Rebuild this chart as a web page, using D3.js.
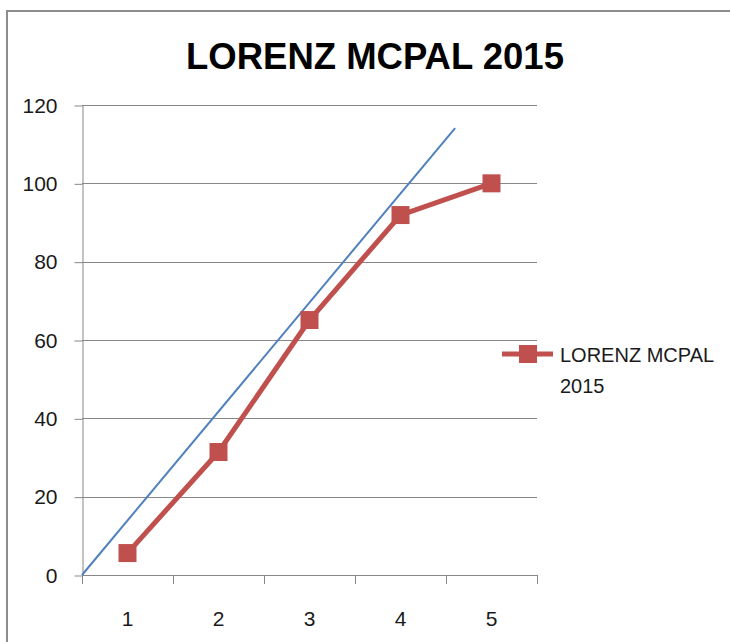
<!DOCTYPE html>
<html>
<head>
<meta charset="utf-8">
<script src="https://cdn.jsdelivr.net/npm/d3@7"></script>
<style>
  body { margin: 0; background: #fff; }
  svg { display: block; font-family: "Liberation Sans", Arial, sans-serif; }
</style>
</head>
<body>
<svg id="chart" width="730" height="642"></svg>
<script>
const categories = [1, 2, 3, 4, 5];
const values = [5.6, 31.4, 65.1, 91.9, 100];
const yTicks = [0, 20, 40, 60, 80, 100, 120];
// straight reference line, in category units (x) and value units (y)
const refLine = [[0.5, 0], [4.6, 114.1]];
const seriesName = "LORENZ MCPAL 2015";

const svg = d3.select("#chart");
const plot = { left: 82, right: 537, top: 105, bottom: 575 };

const red = "#C0504D";
const blue = "#4F81BD";
const grid = "#878787";

// outer frame (left + top edges visible)
svg.append("path")
  .attr("d", "M7,642 V11 H730")
  .attr("fill", "none")
  .attr("stroke", "#8c8c8c")
  .attr("stroke-width", 2);

const x = d3.scaleBand()
  .domain(categories)
  .range([plot.left, plot.right])
  .paddingInner(0).paddingOuter(0);

const xLin = d3.scaleLinear()
  .domain([0.5, categories.length + 0.5])
  .range([plot.left, plot.right]);

const y = d3.scaleLinear()
  .domain([0, 120])
  .range([plot.bottom, plot.top]);

// gridlines
svg.append("g")
  .selectAll("line")
  .data(yTicks.filter(d => d > 0))
  .join("line")
  .attr("x1", plot.left)
  .attr("x2", plot.right)
  .attr("y1", d => Math.round(y(d)) + 0.5)
  .attr("y2", d => Math.round(y(d)) + 0.5)
  .attr("stroke", grid)
  .attr("stroke-width", 1);

// y axis
const yAxisG = svg.append("g")
  .attr("transform", `translate(${plot.left + 0.5},0.5)`)
  .call(d3.axisLeft(y).tickValues(yTicks).tickSize(8).tickPadding(17).tickSizeOuter(0));
yAxisG.select(".domain").attr("stroke", grid);
yAxisG.selectAll(".tick line").attr("stroke", grid);
yAxisG.selectAll(".tick text")
  .attr("font-size", 21)
  .attr("font-family", "Liberation Sans, Arial, sans-serif")
  .attr("fill", "#1a1a1a");

// x axis
const xAxisG = svg.append("g");
xAxisG.append("line")
  .attr("x1", plot.left).attr("x2", plot.right)
  .attr("y1", plot.bottom + 0.5).attr("y2", plot.bottom + 0.5)
  .attr("stroke", grid);
const bounds = categories.map(c => x(c)).concat([x(categories[categories.length - 1]) + x.bandwidth()]);
xAxisG.selectAll("line.tick")
  .data(bounds)
  .join("line")
  .attr("class", "tick")
  .attr("x1", d => Math.round(d) + 0.5)
  .attr("x2", d => Math.round(d) + 0.5)
  .attr("y1", plot.bottom)
  .attr("y2", plot.bottom + 9)
  .attr("stroke", grid);
xAxisG.selectAll("text")
  .data(categories)
  .join("text")
  .attr("x", d => x(d) + x.bandwidth() / 2)
  .attr("y", 626)
  .attr("text-anchor", "middle")
  .attr("font-size", 21)
  .attr("fill", "#1a1a1a")
  .text(d => d);

// reference line
svg.append("path")
  .datum(refLine)
  .attr("d", d3.line().x(d => xLin(d[0])).y(d => y(d[1])))
  .attr("fill", "none")
  .attr("stroke", blue)
  .attr("stroke-width", 2);

// series
const pts = categories.map((c, i) => ({ c, v: values[i] }));
svg.append("path")
  .datum(pts)
  .attr("d", d3.line().x(d => x(d.c) + x.bandwidth() / 2).y(d => y(d.v)))
  .attr("fill", "none")
  .attr("stroke", red)
  .attr("stroke-width", 5)
  .attr("stroke-linejoin", "round");

const ms = 18;
svg.append("g")
  .selectAll("rect")
  .data(pts)
  .join("rect")
  .attr("x", d => x(d.c) + x.bandwidth() / 2 - ms / 2)
  .attr("y", d => y(d.v) - ms / 2)
  .attr("width", ms)
  .attr("height", ms)
  .attr("fill", red);

// title
svg.append("text")
  .attr("x", 375)
  .attr("y", 69)
  .attr("text-anchor", "middle")
  .attr("font-size", 36.5)
  .attr("font-weight", "bold")
  .attr("fill", "#000")
  .text(seriesName);

// legend
const lg = svg.append("g");
lg.append("line")
  .attr("x1", 502).attr("x2", 553)
  .attr("y1", 354).attr("y2", 354)
  .attr("stroke", red).attr("stroke-width", 5);
lg.append("rect")
  .attr("x", 528 - ms / 2).attr("y", 354 - ms / 2)
  .attr("width", ms).attr("height", ms)
  .attr("fill", red);
const words = seriesName.split(" ");
lg.selectAll("text")
  .data([words.slice(0, 2).join(" "), words[2]])
  .join("text")
  .attr("x", 560)
  .attr("y", (d, i) => 362 + i * 31)
  .attr("font-size", 20)
  .attr("fill", "#1a1a1a")
  .text(d => d);
</script>
</body>
</html>
